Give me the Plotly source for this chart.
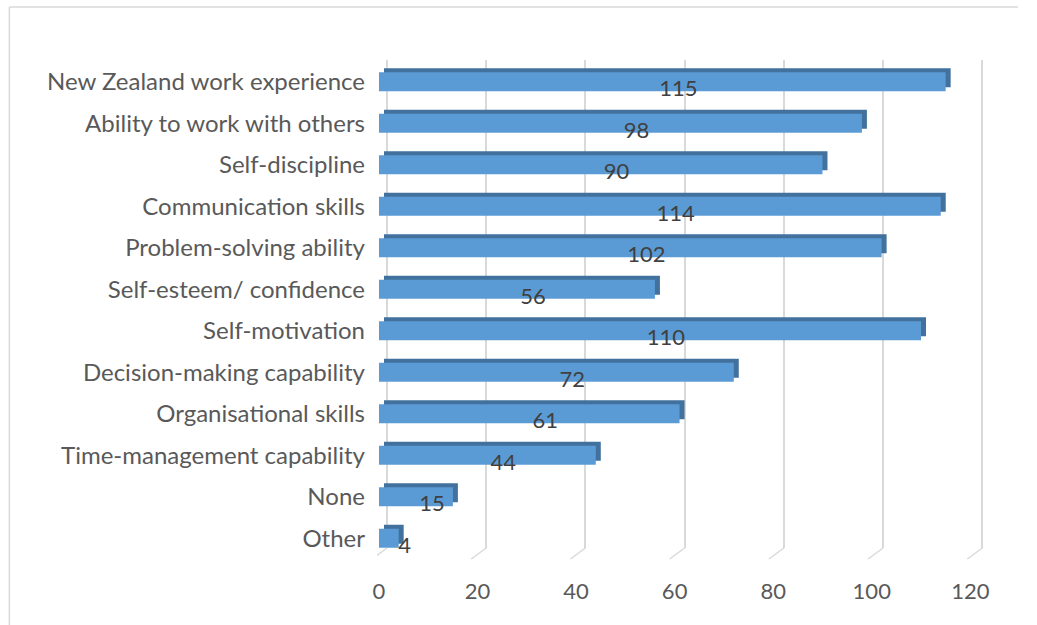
import plotly.graph_objects as go

# Survey responses per attribute (top to bottom as listed)
categories = [
    "New Zealand work experience",
    "Ability to work with others",
    "Self-discipline",
    "Communication skills",
    "Problem-solving ability",
    "Self-esteem/ confidence",
    "Self-motivation",
    "Decision-making capability",
    "Organisational skills",
    "Time-management capability",
    "None",
    "Other",
]
counts = [115, 98, 90, 114, 102, 56, 110, 72, 61, 44, 15, 4]
x_ticks = [0, 20, 40, 60, 80, 100, 120]

W, H = 1037, 625
FONT = "Lato"
TXT = "#595959"
GRID = "#D9D9D9"

# horizontal page mapping of the layout
SX, OX = 0.977, 5.6


def lay_x(px):
    """Layout x (pixels) that lands on page pixel px."""
    return (px - OX) / SX


def xdom(a, b):
    return [lay_x(a) / W, lay_x(b) / W]


def ydom(top, bottom):
    return [1 - bottom / H, 1 - top / H]


# front face of the bars: value 0 .. 120 on page pixels
f_left, f_right = 379, 971
f_top, f_bottom = 61, 559
# back wall: value 0 .. 120 on page pixels
b_left, b_right = 387, 983
b_top, b_bottom = 60, 548
b_pad = 2  # value units of wall shown past each end
# depth offset of the bars, and offset of the value labels (page pixels)
dx, dy = 5, 4
lx, ly = 16, 6
BAR_W = 0.46

b_unit = (b_right - b_left) / 120.0


def cat_axis(top, bottom, anchor, **kw):
    return dict(
        domain=ydom(top, bottom), autorange="reversed", anchor=anchor,
        categoryorder="array", categoryarray=categories,
        showgrid=False, zeroline=False, showline=False, ticks="", **kw,
    )


def val_axis(left, right, anchor, rng=(0, 120), **kw):
    return dict(
        domain=xdom(left, right), range=list(rng), anchor=anchor,
        tickvals=x_ticks, zeroline=False, showline=False, ticks="", **kw,
    )


def bar_trace(ax, color, **kw):
    return go.Bar(
        y=categories, x=counts, orientation="h",
        xaxis="x" + ax, yaxis="y" + ax,
        marker=dict(color=color, line=dict(width=0)),
        width=BAR_W, showlegend=False, **kw,
    )


fig = go.Figure()
# back wall (carries the gridlines only)
fig.add_trace(bar_trace("", "rgba(0,0,0,0)", hoverinfo="skip"))
# depth face of each bar
fig.add_trace(bar_trace("2", "#41719C", hoverinfo="skip"))
# front face of each bar
fig.add_trace(bar_trace("3", "#5B9BD5"))
# value labels
fig.add_trace(bar_trace(
    "4", "rgba(0,0,0,0)", hoverinfo="skip",
    text=[str(v) for v in counts],
    textposition="inside", insidetextanchor="middle", textangle=0,
    constraintext="none",
    textfont=dict(family=FONT, size=22, color="#404040"),
))

# floor edges running forward from the foot of each wall gridline
floor_dx_units = 15 / b_unit
floor = [
    dict(type="line", xref="x", yref="paper",
         x0=v, x1=v - floor_dx_units,
         y0=1 - b_bottom / H, y1=1 - (b_bottom + 11) / H,
         line=dict(color=GRID, width=1.5))
    for v in x_ticks
]

frame = [
    dict(type="line", xref="paper", yref="paper",
         x0=lay_x(9) / W, x1=1.0, y0=1 - 7 / H, y1=1 - 7 / H,
         line=dict(color=GRID, width=1.5)),
    dict(type="line", xref="paper", yref="paper",
         x0=lay_x(9) / W, x1=lay_x(9) / W, y0=0, y1=1 - 7 / H,
         line=dict(color=GRID, width=1.5)),
]

fig.update_layout(
    width=W, height=H, autosize=False,
    margin=dict(l=0, r=0, t=0, b=0),
    paper_bgcolor="white", plot_bgcolor="rgba(0,0,0,0)",
    font=dict(family=FONT, color=TXT),
    barmode="overlay",
    xaxis=val_axis(b_left - b_pad * b_unit, b_right + b_pad * b_unit, "y",
                   rng=(-b_pad, 120 + b_pad),
                   showgrid=True, gridcolor=GRID, gridwidth=1.5,
                   showticklabels=False),
    yaxis=cat_axis(b_top, b_bottom, "x", showticklabels=False),
    xaxis2=val_axis(f_left + dx, f_right + dx, "y2", showgrid=False,
                    showticklabels=False),
    yaxis2=cat_axis(f_top - dy, f_bottom - dy, "x2", showticklabels=False),
    xaxis3=val_axis(f_left, f_right, "y3", showgrid=False,
                    ticklabelstandoff=17,
                    tickfont=dict(family=FONT, size=22, color=TXT)),
    yaxis3=cat_axis(f_top, f_bottom, "x3",
                    ticklabelstandoff=13,
                    tickfont=dict(family=FONT, size=24, color=TXT)),
    xaxis4=val_axis(f_left + lx, f_right + lx, "y4", showgrid=False,
                    showticklabels=False),
    yaxis4=cat_axis(f_top + ly, f_bottom + ly, "x4", showticklabels=False),
    shapes=floor + frame,
)

fig.write_html("out.html", config={"responsive": False})
